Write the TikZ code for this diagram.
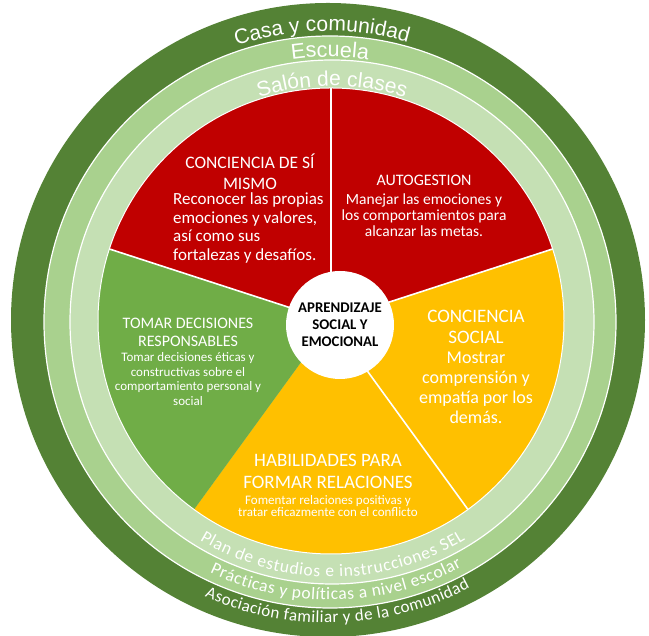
\documentclass[tikz,border=0pt]{standalone}
\usepackage{fontspec}
\setmainfont{Carlito}
\newfontfamily\arialf{Liberation Sans}
\usetikzlibrary{decorations.text}
\definecolor{dkgreen}{HTML}{548235}
\definecolor{ltgreen}{HTML}{A9D18E}
\definecolor{xlgreen}{HTML}{C5E0B4}
\definecolor{secred}{HTML}{C00000}
\definecolor{secgreen}{HTML}{70AD47}
\definecolor{secyellow}{HTML}{FFC000}
\newcommand\RingText[7]{%
  \begin{scope}[shift={(#1,#2)}]
    \path[decorate,decoration={text along path,text align=center,text={|#6|#7}}]
      (#4:#3) arc[start angle=#4,end angle=#5,radius=#3];
  \end{scope}}
\newcommand\RingFit[7]{%
  \begin{scope}[shift={(#1,#2)}]
    \path[decorate,decoration={text along path,text align={fit to path},text={|#6|#7}}]
      (#4:#3) arc[start angle=#4,end angle=#5,radius=#3];
  \end{scope}}
\tikzset{
  txt/.style={text=white, inner sep=0pt, align=center},
  ringline/.style={draw=white, line width=1.2pt},
  divider/.style={white, line width=1.6pt}
}
\begin{document}
\begin{tikzpicture}[x=1pt,y=1pt]
\useasboundingbox (0,0) rectangle (649,636);
% rings
\fill[dkgreen] (328,316) circle[radius=317];
\path[fill=ltgreen, ringline] (330,314) circle[radius=286];
\path[fill=xlgreen, ringline] (332,314) circle[radius=262];
% sectors
\coordinate (P) at (331,315);
\fill[secred]    (P) -- ++(90:233)  arc[start angle=90,  end angle=162, radius=233] -- cycle;
\fill[secred]    (P) -- ++(18:233)  arc[start angle=18,  end angle=90,  radius=233] -- cycle;
\fill[secyellow] (P) -- ++(-54:233) arc[start angle=-54, end angle=18,  radius=233] -- cycle;
\fill[secyellow] (P) -- ++(234:233) arc[start angle=234, end angle=306, radius=233] -- cycle;
\fill[secgreen]  (P) -- ++(162:233) arc[start angle=162, end angle=234, radius=233] -- cycle;
\draw[white, line width=1pt] (P) circle[radius=233];
\draw[divider] (P) -- ++(90:233);
\draw[divider] (P) -- ++(162:233);
\draw[divider] (P) -- ++(18:233);
\draw[divider] (P) -- ++(306:233);
% center circle
\node[circle, fill=white, minimum size=108pt, inner sep=0pt, align=center,
      font=\bfseries\fontsize{14.8}{17}\selectfont] (core) at (340,311)
      {APRENDIZAJE\\SOCIAL Y\\EMOCIONAL};
% sector texts
\node[txt, font=\fontsize{17.5}{21}\selectfont] (h1) at (250,464) {CONCIENCIA DE SÍ\\MISMO};
\node[txt, align=left, anchor=west, font=\fontsize{17}{18.5}\selectfont] (b1) at (173,408)
  {Reconocer las propias\\emociones y valores,\\así como sus\\fortalezas y desafíos.};
\node[txt, font=\fontsize{16}{16}\selectfont] (h2) at (424,456) {AUTOGESTION};
\node[txt, font=\fontsize{15.5}{15.8}\selectfont] (b2) at (424,421)
  {Manejar las emociones y\\los comportamientos para\\alcanzar las metas.};
\node[txt, font=\fontsize{16}{18}\selectfont] (h3) at (188,304) {TOMAR DECISIONES\\RESPONSABLES};
\node[txt, font=\fontsize{13}{14.6}\selectfont] (b3) at (188,257)
  {Tomar decisiones éticas y\\constructivas sobre el\\comportamiento personal y\\social};
\node[txt, font=\fontsize{19}{21}\selectfont] (h4) at (476,309) {CONCIENCIA\\SOCIAL};
\node[txt, font=\fontsize{18}{20}\selectfont] (b4) at (476,248)
  {Mostrar\\comprensión y\\empatía por los\\demás.};
\node[txt, font=\fontsize{19}{22}\selectfont] (h5) at (328,165) {HABILIDADES PARA\\FORMAR RELACIONES};
\node[txt, font=\fontsize{13}{12.5}\selectfont] (b5) at (328,130)
  {Fomentar relaciones positivas y\\tratar eficazmente con el conflicto};
% ring texts, top
\RingText{328}{316}{289}{151.2}{31.2}{\arialf\fontsize{21}{21}\selectfont\color{white}}{Casa y comunidad}
\RingText{330}{314}{265}{150}{30}{\arialf\fontsize{21.5}{21.5}\selectfont\color{white}}{Escuela}
\RingText{332}{314}{236}{150}{30}{\arialf\fontsize{21}{21}\selectfont\color{white}}{Salón de clases}
% ring texts, bottom
\RingFit{332}{314}{255}{238.8}{301.5}{\fontsize{17.5}{17.5}\selectfont\color{white}}{Plan de estudios e instrucciones SEL}
\RingFit{330}{314}{278}{244.4}{298.3}{\fontsize{17.5}{17.5}\selectfont\color{white}}{Prácticas y políticas a nivel escolar}
\RingFit{328}{316}{303}{246}{297.9}{\fontsize{17}{17}\selectfont\color{white}}{Asociación familiar y de la comunidad}
\end{tikzpicture}
\end{document}
